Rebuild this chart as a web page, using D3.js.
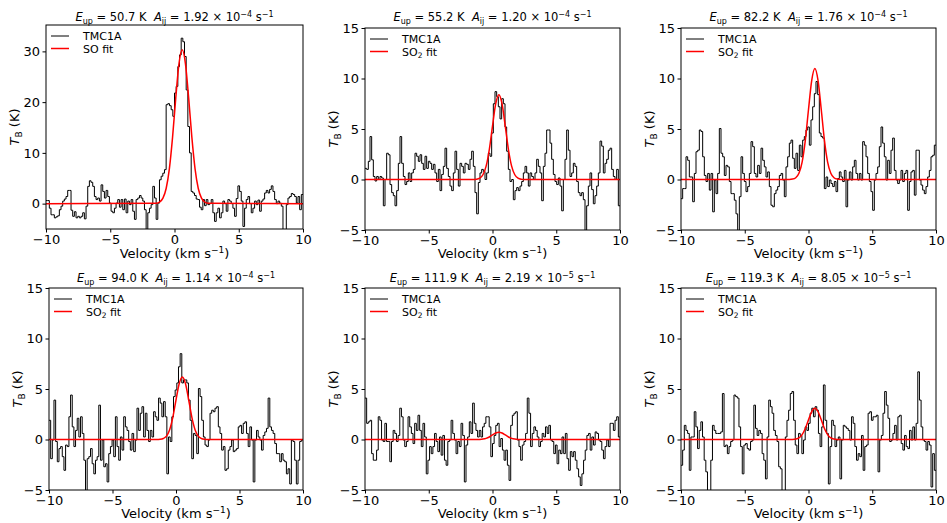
<!DOCTYPE html>
<html>
<head>
<meta charset="utf-8">
<script src="https://cdn.jsdelivr.net/npm/d3@7"></script>
<style>
  body { margin: 0; background: #fff; }
  svg { font-family: "DejaVu Sans", sans-serif; }
  text { white-space: pre; }
</style>
</head>
<body>
<svg width="947" height="523"></svg>
<script>
// observed TMC1A spectra, one value per channel from -10 to 10 km/s
const spec1 = [0.6, 0.6, -0.9, -2.2, -2.2, -2.8, -2.6, -2.4, -1.2, -0.5,
  0.5, 0.9, 1.4, 2.6, 2.6, -1.3, -2.5, -1.6, -2.8, -2.5,
  -2.8, -2.5, -1.8, -3.0, -0.5, 3.4, 4.5, 4.2, 3.4, 1.4,
  0.8, 1.1, 0.5, 3.7, 2.4, 1.1, 2.6, 1.4, 0.1, -1.5,
  -1.8, -0.9, 0.1, 0.8, -0.7, 0.8, -1.2, 0.9, -1.8, 0.5,
  -0.2, 0.8, -1.5, -3.1, 0.8, 1.1, 1.6, 1.1, 0.5, -1.2,
  -6, -1.8, -0.9, -0.2, 3.4, 1.1, -3.1, 0.1, 4.7, 5.4,
  6.0, 6.7, 19.5, 19.7, 19.3, 18.5, 17.2, 21.8, 23.1, 27.0,
  29.3, 32.6, 31.9, 29.0, 22.4, 15.2, 10.0, 2.4, 2.1, 1.6,
  0.9, 0.8, -0.7, -1.2, 0.8, -0.4, 0.8, -0.2, 0.0, 0.8,
  -1.8, -3.5, -1.8, -0.9, -2.8, -1.8, 0.5, 0.0, -1.5, 0.8,
  0.5, 0.0, -0.9, -2.5, 1.0, 3.5, 2.4, 0.5, -4.5, -0.9,
  0.8, 1.4, 0.0, -1.8, -0.9, 0.5, -0.2, 0.7, -1.5, 0.5,
  0.9, 2.1, 2.6, 2.1, 2.8, 3.5, 2.4, 0.8, 0.0, 0.5,
  0.1, -0.5, -6, -6, -0.2, 1.1, 1.4, 2.0, 1.8, 1.4,
  0.1, 1.4, -1.2, 1.8];
const spec2 = [1.1, 1.0, 1.8, 4.25, 1.95, 0.3, -0.15, 0.3, 0.0, 0.3,
  0.15, -2.6, 0.0, 2.6, 2.45, -0.5, -1.3, -1.6, -2.6, -1.1,
  1.6, 4.25, 1.6, 0.3, -0.5, -0.2, 0.65, -0.2, 0.65, 1.0,
  2.6, 2.3, 1.8, 2.45, 1.6, 1.0, 2.3, 1.1, 1.8, 1.6,
  1.0, 1.5, 0.65, -0.2, 1.0, -1.1, 0.5, 1.3, 3.1, 1.1,
  0.3, -0.65, -1.1, 0.65, 2.8, 1.0, -0.65, 1.6, 1.3, 0.65,
  1.6, 1.5, 1.0, 2.0, 2.8, 1.3, -1.3, -3.4, -0.3, 0.65,
  1.0, 0.8, 0.0, 0.65, 2.6, 2.3, 4.6, 7.5, 8.7, 8.2,
  7.2, 6.0, 8.0, 7.5, 5.2, 2.8, 1.0, -0.2, 0.0, -2.0,
  -1.1, -0.8, -1.1, -0.65, -0.2, 0.65, 1.3, 0.65, -0.65, 0.65,
  0.3, 0.0, 0.65, 2.0, 1.3, 0.65, -2.1, 1.3, 2.6, 4.9,
  4.9, 3.6, 2.0, 0.5, -0.2, -0.5, 0.15, -0.65, -3.1, 0.0,
  2.0, 4.9, 2.9, 0.3, 0.65, 1.6, 1.3, -0.2, -1.3, -1.6,
  -1.3, -2.0, -5.5, -2.6, -0.65, 0.65, -1.0, -2.4, -1.6, -0.65,
  0.65, 3.8, 3.3, 0.65, 1.6, 2.0, 2.9, 3.1, 1.0, 0.3,
  0.0, 1.0, -2.6];
const spec3 = [-1.9, -0.9, -0.9, 2.25, 1.9, 0.25, 0.25, -2.2, 0.6, 2.75,
  2.9, 4.9, 4.75, 2.25, 0.4, -0.2, 0.6, -1.05, 0.6, -3.2,
  -0.05, -1.4, 0.6, 5.05, 2.6, 2.25, 0.4, 1.4, 1.25, -0.2,
  -1.4, -1.4, -2.05, -3.4, -6, -1.7, 2.25, 0.6, -0.2, -1.2,
  -0.7, 0.6, 3.75, 3.25, 0.6, 0.25, 1.4, 0.6, 3.1, 1.9,
  1.25, 0.25, 0.75, -0.7, -2.55, -2.7, -1.4, -1.05, -0.7, 0.4,
  0.6, -0.05, -1.7, 1.25, 2.25, 3.6, 3.9, 2.1, 1.1, 2.6,
  0.9, 3.4, 2.25, 3.9, 4.25, 4.9, 5.2, 3.4, 5.9, 7.2,
  8.5, 9.7, 8.4, 4.6, 4.25, 4.1, -0.9, 0.25, -0.7, -0.05,
  -0.4, -0.7, -0.2, -1.2, 0.1, 0.75, 0.25, -0.2, 0.9, -2.7,
  -0.05, 0.75, -0.05, 1.25, 1.9, 0.6, -0.05, 0.6, -0.05, 3.75,
  3.4, 2.25, 0.6, -0.2, -1.2, -3.05, -0.05, 0.6, 1.25, 3.25,
  5.2, 3.6, 2.25, -0.05, 1.9, 0.6, 2.9, 4.1, 0.9, -0.05,
  -0.4, -0.05, 0.9, -0.2, 0.6, 0.9, -3.05, -0.2, 0.75, 0.9,
  -1.55, 2.9, 2.9, -0.05, -0.55, -1.05, -1.4, -0.7, 0.25, 0.9,
  2.25, 2.4, 3.4];
const spec4 = [1.9, -1.9, -0.05, 3.9, -0.2, -2.2, -0.9, -0.7, -1.7, -3.05,
  -0.55, -0.7, 2.25, 4.4, 1.25, -0.7, 0.9, 2.1, 0.25, 2.25,
  0.6, -2.05, -6, -1.9, -1.7, -0.9, -2.4, -3.4, -2.05, -1.7,
  3.4, -2.05, -0.05, -2.7, -2.4, -4.2, -1.4, -0.7, -0.05, -1.7,
  2.25, -0.7, -2.05, 0.25, -1.05, 2.25, 1.25, 0.9, -0.2, -1.05,
  0.6, -1.2, -0.05, 3.1, 0.9, 2.6, 3.25, 0.25, 2.6, 0.9,
  -0.2, 0.9, 0.25, 2.75, 2.25, 1.9, 4.1, 3.6, 2.25, 3.75,
  2.25, -3.4, 0.25, -0.2, 2.25, 4.25, 4.9, 5.6, 7.2, 8.5,
  5.6, 5.9, 5.9, 5.6, 3.9, 1.9, -1.9, 0.6, 0.4, -1.4,
  5.05, 4.25, 1.9, 0.25, -0.55, -0.7, -0.05, 2.6, 2.9, 2.75,
  3.1, 3.25, 1.25, 0.6, -1.05, -0.7, -3.05, -2.9, -1.05, -0.7,
  -0.05, -1.2, -1.05, -0.9, 1.25, 1.4, 0.6, 1.6, 1.75, 0.6,
  -0.7, 1.25, -0.05, -4.2, -0.05, 0.9, 0.25, -0.05, -1.05, 0.4,
  0.75, 1.1, 4.1, 1.25, 0.9, 0.6, -0.4, -1.4, -1.4, -2.2,
  -1.4, -2.05, -2.2, -3.4, -2.9, -4.4, -0.05, -0.2, -2.05, -4.4,
  -2.05, -0.2, -0.05];
const spec5 = [4.1, 1.6, 1.75, 1.9, -1.4, -2.05, -2.05, -1.05, 2.25, 1.9,
  -0.05, -0.2, 1.6, -0.2, -0.2, -2.2, -0.2, 0.9, 0.6, -0.2,
  0.4, 3.1, 2.25, -0.05, -0.7, -0.2, 2.25, 1.25, 0.6, -0.4,
  1.6, 0.9, 2.4, 0.9, -0.7, 1.6, 0.25, -3.4, -2.05, -0.7,
  -1.4, -0.7, 0.6, -0.2, -1.2, 0.25, -1.55, 0.4, -2.05, -2.55,
  -0.2, -0.05, 1.9, 0.6, -0.05, -1.4, -0.2, -0.7, 1.6, 0.4,
  -4.2, -0.55, 0.25, 1.75, 0.6, 3.6, 1.6, 0.9, 0.25, 0.9,
  0.25, 1.25, 1.6, 2.25, 2.25, 1.25, -1.7, -0.4, 0.4, 1.4,
  1.6, -0.7, 0.1, -1.05, -2.05, -1.05, -2.55, -4.05, 1.4, 2.4,
  2.6, 2.75, -0.05, -0.7, -2.05, -0.55, -0.2, 0.6, 4.1, 2.6,
  -0.7, 0.6, 1.25, 0.9, 0.25, -0.7, -0.2, 0.6, 0.25, 1.25,
  0.6, 1.4, -0.05, -0.2, -1.4, -0.55, -2.4, -1.05, -1.4, 0.25,
  -1.4, 0.6, -1.9, -3.05, -1.2, -1.7, -1.2, -2.05, -2.9, -3.7,
  -4.55, -3.4, -2.05, -1.05, 0.4, 0.6, -1.05, 0.25, -0.55, 0.75,
  0.6, -0.05, -0.2, -1.05, -1.9, -0.7, -0.05, -0.7, 1.6, 1.6,
  0.9, 1.9, 2.25, 0.25];
const spec6 = [-2.55, -1.05, 1.4, 0.9, 0.6, -3.05, 0.25, 0.25, 2.75, 1.25,
  -0.9, 0.9, 1.75, 0.25, -2.05, -3.2, -6, -6, -2.05, 1.4,
  0.9, 0.6, 0.6, 0.6, 0.75, 4.55, -0.7, -0.55, -1.4, -0.7,
  -0.2, -0.05, 4.4, 4.25, 4.1, 1.25, -0.7, -3.4, -0.55, -0.4,
  -0.9, -1.05, -0.2, -0.05, 3.4, 1.1, 0.4, 0.9, 0.6, -1.4,
  -2.05, -3.9, 0.25, 3.9, 3.25, 2.6, 0.9, 0.4, -0.2, -2.7,
  -2.9, -6, -6, 0.25, 1.9, 2.9, 4.55, 4.75, 1.9, -0.55,
  -1.4, 0.6, 0.4, -1.4, -0.05, 1.25, 0.9, 1.6, 2.6, 3.1,
  2.25, 3.25, 2.9, 0.6, -0.7, 1.25, 5.4, 1.9, 0.6, -4.4,
  -0.7, 1.9, 1.4, -0.7, -0.05, 0.25, -3.9, -0.05, 1.4, 1.25,
  1.1, 0.9, -0.05, 2.25, 1.6, -0.7, -2.05, -1.4, -1.7, 0.4,
  -3.05, -0.7, -0.55, 2.6, 2.75, 1.9, 2.25, 2.25, 2.4, -3.2,
  -0.05, 0.4, 2.6, 4.75, 3.4, 2.1, -0.2, -0.05, 0.6, 1.4,
  -0.05, 2.25, 2.4, -0.4, -1.05, 0.4, -0.7, -0.9, 0.9, -0.05,
  1.25, -0.05, 1.6, 6.7, 3.9, 1.25, -0.05, -0.2, -1.05, -0.2,
  -0.55, -4.7, -1.4, -3.05];

// fitted line profiles, read at these velocities
const fitVelSO = [-10, -1.4, -1.15, -0.9, -0.65, -0.4, -0.15, 0.1, 0.35, 0.6, 0.85, 1.1, 1.35, 1.6, 1.85, 2.1, 2.35, 2.6, 10];
const fitVelSO2 = [-10, -1.5, -1.25, -1.0, -0.75, -0.5, -0.25, 0, 0.25, 0.5, 0.75, 1.0, 1.25, 1.5, 1.75, 2.0, 2.25, 2.5, 10];
const fit1 = [0, 0.08, 0.32, 1.07, 2.98, 6.85, 13.1, 20.9, 27.6, 30.3, 27.6, 20.9, 13.1, 6.85, 2.98, 1.07, 0.32, 0.08, 0];
const fit2 = [0, 0.005, 0.03, 0.13, 0.47, 1.32, 2.97, 5.29, 7.48, 8.4, 7.48, 5.29, 2.97, 1.32, 0.47, 0.13, 0.03, 0.005, 0];
const fit3 = [0, 0.01, 0.04, 0.17, 0.61, 1.73, 3.88, 6.93, 9.8, 11.0, 9.8, 6.93, 3.88, 1.73, 0.61, 0.17, 0.04, 0.01, 0];
const fit4 = [0, 0, 0.02, 0.1, 0.34, 0.97, 2.19, 3.91, 5.52, 6.2, 5.52, 3.91, 2.19, 0.97, 0.34, 0.1, 0.02, 0, 0];
const fit5 = [0, 0, 0, 0.01, 0.04, 0.11, 0.25, 0.45, 0.64, 0.72, 0.64, 0.45, 0.25, 0.11, 0.04, 0.01, 0, 0, 0];
const fit6 = [0, 0, 0.01, 0.05, 0.17, 0.49, 1.09, 1.95, 2.76, 3.1, 2.76, 1.95, 1.09, 0.49, 0.17, 0.05, 0.01, 0, 0];

// panel titles
const eup = ["50.7", "55.2", "82.2", "94.0", "111.9", "119.3"];
const aijMantissa = ["1.92", "1.20", "1.76", "1.14", "2.19", "8.05"];
const aijExponent = ["\u22124", "\u22124", "\u22124", "\u22124", "\u22125", "\u22125"];
const fitLabel = ["SO", "SO2", "SO2", "SO2", "SO2", "SO2"];

const xTicks = [-10, -5, 0, 5, 10];
const yTicksSO = [0, 10, 20, 30];
const yTicksSO2 = [-5, 0, 5, 10, 15];

const spectra = [spec1, spec2, spec3, spec4, spec5, spec6];
const fits = [fit1, fit2, fit3, fit4, fit5, fit6];

const boxes = [
  { x0: 46, x1: 303, y0: 25, y1: 229, ymax: 35.2 },
  { x0: 365, x1: 620, y0: 28, y1: 230, ymax: 15 },
  { x0: 681, x1: 936, y0: 28, y1: 230, ymax: 15 },
  { x0: 49, x1: 303, y0: 288, y1: 490, ymax: 15 },
  { x0: 365, x1: 620, y0: 288, y1: 490, ymax: 15 },
  { x0: 681, x1: 936, y0: 288, y1: 490, ymax: 15 }
];
const titleY = [21, 21, 21, 282, 282, 282];
const xLabelY = [258, 258, 258, 518, 518, 518];

const svg = d3.select("svg");
const minus = d => (d < 0 ? "\u2212" + Math.abs(d) : String(d));

boxes.forEach(function (b, i) {
  const x = d3.scaleLinear().domain([-10, 10]).range([b.x0, b.x1]);
  const y = d3.scaleLinear().domain([-5, b.ymax]).range([b.y1, b.y0]);
  const g = svg.append("g");

  g.append("clipPath").attr("id", "clip" + i)
    .append("rect")
    .attr("x", b.x0).attr("y", b.y0)
    .attr("width", b.x1 - b.x0).attr("height", b.y1 - b.y0);

  // spectrum as a step line
  const spec = spectra[i];
  const dv = 20 / spec.length;
  const pts = spec.map((v, k) => [-10 + k * dv, v]);
  pts.push([10, spec[spec.length - 1]]);
  const step = d3.line()
    .x(d => x(d[0]))
    .y(d => y(d[1]))
    .curve(d3.curveStepAfter);
  g.append("path")
    .attr("clip-path", "url(#clip" + i + ")")
    .attr("d", step(pts))
    .attr("fill", "none")
    .attr("stroke", "#000")
    .attr("stroke-width", 1);

  // fit
  const fv = i == 0 ? fitVelSO : fitVelSO2;
  const smooth = d3.line()
    .x((d, k) => x(fv[k]))
    .y(d => y(d))
    .curve(d3.curveMonotoneX);
  g.append("path")
    .attr("clip-path", "url(#clip" + i + ")")
    .attr("d", smooth(fits[i]))
    .attr("fill", "none")
    .attr("stroke", "#ff0000")
    .attr("stroke-width", 1.5);

  // frame
  g.append("rect")
    .attr("x", b.x0).attr("y", b.y0)
    .attr("width", b.x1 - b.x0).attr("height", b.y1 - b.y0)
    .attr("fill", "none").attr("stroke", "#000").attr("stroke-width", 1);

  // axes
  const xAxis = d3.axisBottom(x).tickValues(xTicks).tickFormat(minus)
    .tickSize(3.5).tickSizeOuter(0).tickPadding(2);
  g.append("g")
    .attr("transform", "translate(0," + b.y1 + ")")
    .call(xAxis)
    .attr("font-size", 13)
    .attr("font-family", "DejaVu Sans")
    .call(a => a.select(".domain").remove());

  const yAxis = d3.axisLeft(y).tickValues(i == 0 ? yTicksSO : yTicksSO2).tickFormat(minus)
    .tickSize(3.5).tickSizeOuter(0).tickPadding(2.5);
  g.append("g")
    .attr("transform", "translate(" + b.x0 + ",0)")
    .call(yAxis)
    .attr("font-size", 13)
    .attr("font-family", "DejaVu Sans")
    .call(a => a.select(".domain").remove());

  // axis labels
  const xl = g.append("text")
    .attr("x", (b.x0 + b.x1) / 2).attr("y", xLabelY[i])
    .attr("text-anchor", "middle").attr("font-size", 13);
  xl.append("tspan").text("Velocity (km s");
  xl.append("tspan").attr("font-size", 9).attr("dy", -5).text("\u22121");
  xl.append("tspan").attr("dy", 5).text(")");

  const yl = g.append("text")
    .attr("transform", "translate(" + (b.x0 - 27) + "," + ((b.y0 + b.y1) / 2) + ") rotate(-90)")
    .attr("text-anchor", "middle").attr("font-size", 13);
  yl.append("tspan").attr("font-style", "italic").text("T");
  yl.append("tspan").attr("font-size", 9).attr("dy", 3).text("B");
  yl.append("tspan").attr("dy", -3).text(" (K)");

  // title
  const t = g.append("text")
    .attr("x", (b.x0 + b.x1) / 2).attr("y", titleY[i])
    .attr("text-anchor", "middle").attr("font-size", 11.5);
  t.append("tspan").attr("font-style", "italic").text("E");
  t.append("tspan").attr("font-size", 8).attr("dy", 2.5).text("up");
  t.append("tspan").attr("dy", -2.5).text(" = " + eup[i] + " K  ");
  t.append("tspan").attr("font-style", "italic").text("A");
  t.append("tspan").attr("font-size", 8).attr("dy", 2.5).text("ij");
  t.append("tspan").attr("dy", -2.5).text(" = " + aijMantissa[i] + " \u00d7 10");
  t.append("tspan").attr("font-size", 8).attr("dy", -4.5).text(aijExponent[i]);
  t.append("tspan").attr("dy", 4.5).text(" s");
  t.append("tspan").attr("font-size", 8).attr("dy", -4.5).text("\u22121");

  // legend
  const lx = b.x0 + 5, ly = b.y0 + 11;
  g.append("line").attr("x1", lx).attr("x2", lx + 18).attr("y1", ly).attr("y2", ly)
    .attr("stroke", "#000").attr("stroke-width", 1);
  g.append("text").attr("x", lx + 32).attr("y", ly + 4).attr("font-size", 11).text("TMC1A");
  g.append("line").attr("x1", lx).attr("x2", lx + 18).attr("y1", ly + 12.5).attr("y2", ly + 12.5)
    .attr("stroke", "#ff0000").attr("stroke-width", 1.5);
  const lt = g.append("text").attr("x", lx + 32).attr("y", ly + 16.5).attr("font-size", 11);
  if (fitLabel[i] == "SO") {
    lt.text("SO fit");
  } else {
    lt.append("tspan").text("SO");
    lt.append("tspan").attr("font-size", 7.5).attr("dy", 2.5).text("2");
    lt.append("tspan").attr("dy", -2.5).text(" fit");
  }
});
</script>
</body>
</html>
